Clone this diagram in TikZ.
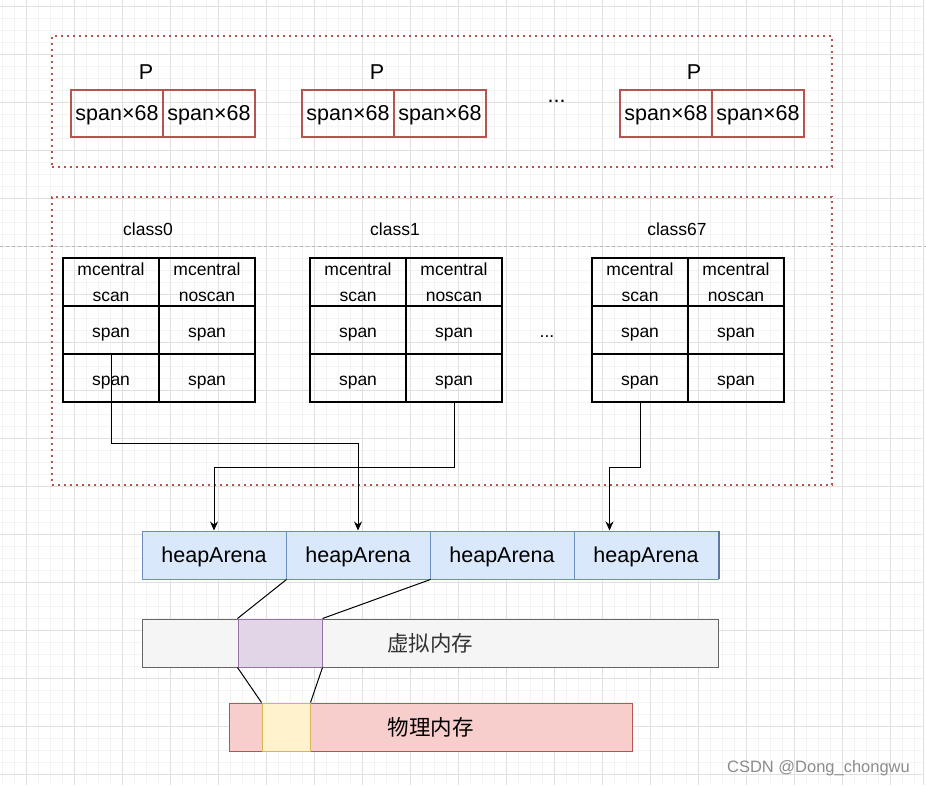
\documentclass[tikz,border=0pt]{standalone}
\usepackage{fontspec}
\setmainfont{Liberation Sans}
\newfontfamily\cjk{Noto Sans CJK SC}
\usetikzlibrary{arrows.meta,calc}
\definecolor{redb}{HTML}{B85450}
\definecolor{bluef}{HTML}{DAE8FC}
\definecolor{blueb}{HTML}{6C8EBF}
\definecolor{grayf}{HTML}{F5F5F5}
\definecolor{grayb}{HTML}{666666}
\definecolor{purf}{HTML}{E1D5E7}
\definecolor{purb}{HTML}{9673A6}
\definecolor{pinkf}{HTML}{F8CECC}
\definecolor{yelf}{HTML}{FFF2CC}
\definecolor{yelb}{HTML}{D6B656}
\definecolor{gminor}{HTML}{F3F3F3}
\definecolor{gmajor}{HTML}{E0E0E0}
\definecolor{wmark}{HTML}{8C8C8C}
\newcommand\mctable[2]{%
  \node[cell] (#1h1) at (#2+48,282) {mcentral\\scan};
  \node[cell] (#1h2) at (#2+144,282) {mcentral\\noscan};
  \node[cell,spancell] (#1a1) at (#2+48,330) {span};
  \node[cell,spancell] (#1a2) at (#2+144,330) {span};
  \node[cell,spancell] (#1b1) at (#2+48,378) {span};
  \node[cell,spancell] (#1b2) at (#2+144,378) {span};
}
\begin{document}
\begin{tikzpicture}[x=1pt,y=-1pt,
  spanbox/.style={draw=redb,line width=2pt,minimum width=92pt,minimum height=47pt,inner sep=0pt,text height=13pt,text depth=0pt,font=\fontsize{21.5}{26}\selectfont},
  cell/.style={draw=black,line width=2pt,minimum width=96pt,minimum height=48pt,inner sep=0pt,align=center,font=\fontsize{17.5}{26}\selectfont},
  spancell/.style={text height=14.6pt,text depth=0pt},
  heap/.style={draw=blueb,fill=bluef,line width=1pt,minimum width=144pt,minimum height=48pt,inner sep=0pt,text height=15.4pt,text depth=0pt,font=\fontsize{21.5}{26}\selectfont},
  biglbl/.style={inner sep=0pt,font=\fontsize{21.5}{26}\selectfont},
  smalllbl/.style={inner sep=0pt,font=\fontsize{17.5}{22}\selectfont},
  region/.style={draw=redb,line width=2pt,dash pattern=on 2pt off 4pt,inner sep=0pt},
  arr/.style={draw=black,line width=1pt,-{Stealth[length=9pt,width=8pt]}},
  link/.style={draw=black,line width=1pt},
  gridminor/.style={draw=gminor,line width=1pt},
  gridmajor/.style={draw=gmajor,line width=1pt}]
\useasboundingbox (0,0) rectangle (926,785);
\fill[white] (0,0) rectangle (926,785);
% grid
\foreach \x in {2,14,...,926} \draw[gridminor] (\x,0) -- (\x,785);
\foreach \y in {6,18,...,785} \draw[gridminor] (0,\y) -- (922,\y);
\foreach \x in {26,74,...,922} \draw[gridmajor] (\x,0) -- (\x,785);
\foreach \y in {6,54,...,785} \draw[gridmajor] (0,\y) -- (922,\y);
\draw[draw=gmajor,line width=1.5pt] (923.5,0) -- (923.5,785);
\draw[draw=black!28,line width=0.8pt,dash pattern=on 3pt off 3pt] (0,246.5) -- (926,246.5);
% top region
\node[region,minimum width=780pt,minimum height=131pt] (r1) at (442,101.5) {};
\node[biglbl] (p1) at (146,72) {P};
\node[biglbl] (p2) at (377,72) {P};
\node[biglbl] (p3) at (694,72) {P};
\node[spanbox] (s1a) at (117,113.5) {span×68};
\node[spanbox] (s1b) at (209,113.5) {span×68};
\node[spanbox] (s2a) at (348,113.5) {span×68};
\node[spanbox] (s2b) at (440,113.5) {span×68};
\node[spanbox] (s3a) at (666,113.5) {span×68};
\node[spanbox] (s3b) at (758,113.5) {span×68};
\node[biglbl,anchor=base] (dots1) at (556.5,102) {...};
% second region
\node[region,minimum width=780pt,minimum height=288pt] (r2) at (442,341) {};
\node[smalllbl] (c0) at (148,229) {class0};
\node[smalllbl] (c1) at (395,229) {class1};
\node[smalllbl] (c67) at (677,229) {class67};
\mctable{t0}{63}
\mctable{t1}{310}
\mctable{t67}{592}
\node[smalllbl,anchor=base] (dots2) at (547,337) {...};
% heap arenas
\node[heap] (ha1) at (214,555) {heapArena};
\node[heap] (ha2) at (358,555) {heapArena};
\node[heap] (ha3) at (502,555) {heapArena};
\node[heap] (ha4) at (646,555) {heapArena};
\draw[draw=blueb!85!black,line width=2pt] (718.5,531) -- (718.5,579);
% arrows
\draw[arr] (t0a1.south) -- ++(0,88) -| (ha2.north);
\draw[arr] (t1b2.south) -- ++(0,64) -| (ha1.north);
\draw[arr] (t67b1.south) -- ++(0,64) -| ([xshift=36pt]ha4.north west);
% memory bars
\node[draw=grayb,fill=grayf,line width=1pt,minimum width=576pt,minimum height=48pt,inner sep=0pt,text=black!80,font=\cjk\fontsize{21.5}{26}\selectfont] (vm) at (430,643) {虚拟内存};
\node[draw=purb,fill=purf,line width=1pt,minimum width=84pt,minimum height=48pt,inner sep=0pt] (vseg) at (280,643) {};
\node[draw=redb,fill=pinkf,line width=1pt,minimum width=403pt,minimum height=48pt,inner sep=0pt,font=\cjk\fontsize{21.5}{26}\selectfont] (pm) at (430.5,727) {物理内存};
\node[draw=yelb,fill=yelf,line width=1pt,minimum width=48pt,minimum height=48pt,inner sep=0pt] (pseg) at (286,727) {};
\draw[link] (ha1.south east) -- (vseg.north west);
\draw[link] (ha2.south east) -- (vseg.north east);
\draw[link] (vseg.south west) -- (pseg.north west);
\draw[link] (vseg.south east) -- (pseg.north east);
% watermark
\node[inner sep=0pt,anchor=base,text=wmark,font=\fontsize{16.5}{20}\selectfont] (wm) at (818.5,772) {CSDN @Dong\_chongwu};
\end{tikzpicture}
\end{document}
